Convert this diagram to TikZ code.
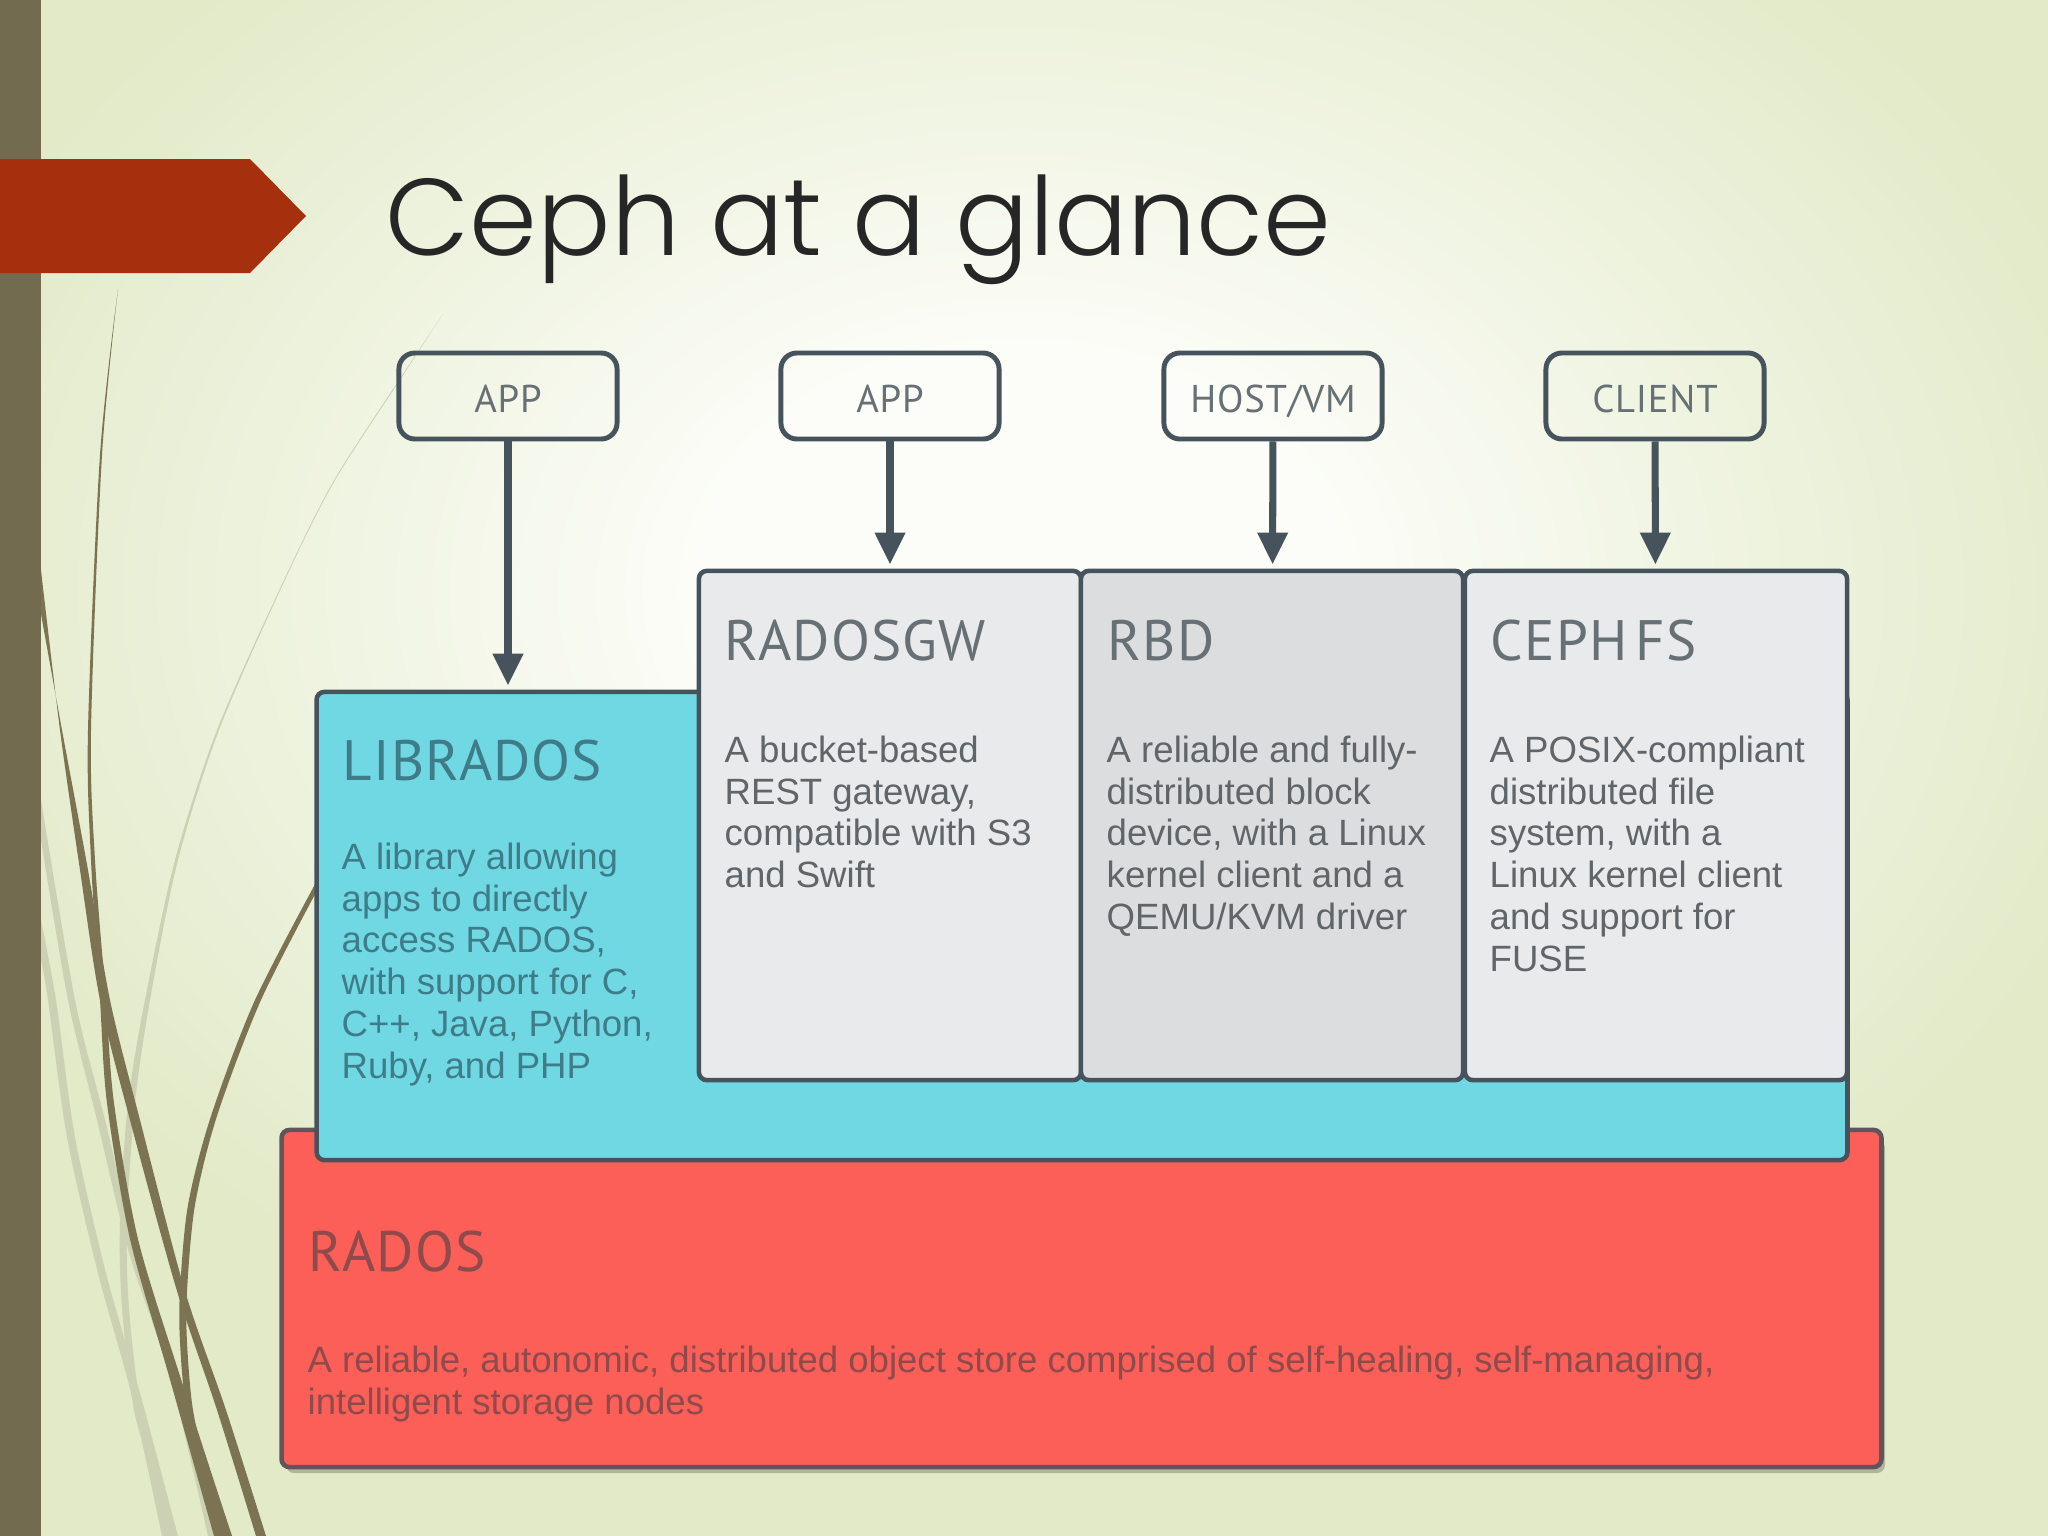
\documentclass[tikz,border=0pt]{standalone}
\usepackage{fontspec}
\usetikzlibrary{arrows.meta}
\setmainfont{Liberation Sans}
\newfontfamily\titlefont[UprightFont=* Light]{Poppins}
\newfontfamily\headfont[LetterSpace=2]{PT Sans}
\definecolor{bgedge}{HTML}{E2EAC8}
\definecolor{bgmid}{HTML}{FCFDF8}
\definecolor{bgnear}{HTML}{F1F5E4}
\definecolor{barcol}{HTML}{736B4F}
\definecolor{redcol}{HTML}{A62F0E}
\definecolor{stem}{HTML}{7B7352}
\definecolor{stemlight}{HTML}{CBD1B2}
\definecolor{edge}{HTML}{46535C}
\definecolor{libfill}{HTML}{70D8E3}
\definecolor{radfill}{HTML}{FB5F58}
\definecolor{gwfill}{HTML}{E8EAEC}
\definecolor{rbdfill}{HTML}{DBDDDF}
\definecolor{labelgrey}{HTML}{667075}
\definecolor{bodygrey}{HTML}{5F6569}
\definecolor{libtext}{HTML}{3F7C8A}
\definecolor{radtext}{HTML}{8F4A4C}
\pgfdeclareradialshading{bgglow}{\pgfpointorigin}{color(0bp)=(bgmid); color(7bp)=(bgmid); color(14bp)=(bgnear); color(25bp)=(bgedge); color(50bp)=(bgedge)}
\tikzset{
  topbox/.style={draw=edge,line width=1.4pt,rounded corners=1.6mm,inner sep=0pt,minimum width=2.18cm,minimum height=.86cm,text=labelgrey,text height=9.4pt,text depth=0pt,font=\headfont\fontsize{11}{13}\selectfont},
  panel/.style={draw=edge,line width=1.3pt,rounded corners=.8mm,inner sep=0pt,minimum width=3.82cm,minimum height=5.09cm},
  head/.style={anchor=north west,inner sep=0pt,text=labelgrey,font=\headfont\fontsize{16.2}{20}\selectfont},
  bodytxt/.style={anchor=north west,inner sep=0pt,align=left,text=bodygrey,font=\fontsize{10.4}{11.9}\selectfont},
  flow/.style={draw=edge,line width=2pt,-{Triangle[length=3.2mm,width=2.9mm]},shorten >=.4mm},
}
\begin{document}
\begin{tikzpicture}[x=.01cm,y=-.01cm]
\useasboundingbox (0,0) rectangle (2048,1536);
\fill[bgedge] (0,0) rectangle (2048,1536);
\begin{scope}
\clip (0,0) rectangle (2048,1536);
\shade[shading=bgglow] (1020,590) ellipse [x radius=1150,y radius=850];
\end{scope}
% grass stems
\fill[stemlight] plot[smooth] coordinates {(41,960) (48,1000) (67,1137) (98,1273) (131,1393) (162,1536)} -- plot[smooth] coordinates {(178,1536) (140,1393) (106,1273) (75,1137) (56,1000) (41,920)} -- cycle;
\fill[stemlight] plot[smooth] coordinates {(41,840) (68,1000) (97,1120) (130,1256) (170,1376) (208,1536)} -- plot[smooth] coordinates {(216,1536) (178,1376) (138,1256) (105,1120) (75,1000) (41,800)} -- cycle;
\fill[stemlight] plot[smooth] coordinates {(443,314) (397,383) (333,482) (283,582) (217,730) (175,860) (145,1000) (128,1103) (120,1222) (122,1308) (134,1410) (154,1479) (166,1536)} -- plot[smooth] coordinates {(176,1536) (161,1479) (141,1410) (129,1308) (127,1222) (135,1103) (150,1000) (178,860) (219,730) (284,582) (334,482) (398,383) (443,314)} -- cycle;
\fill[stem] plot[smooth] coordinates {(118,289) (100,455) (88,730) (91,860) (100,1000) (107,1103) (130,1239) (169,1376) (214,1536)} -- plot[smooth] coordinates {(232,1536) (180,1376) (138,1239) (114,1103) (106,1000) (95,860) (91,730) (102,455) (118,289)} -- cycle;
\fill[stem] plot[smooth] coordinates {(41,570) (60,730) (80,870) (100,1000) (130,1120) (177,1291) (217,1410) (256,1536)} -- plot[smooth] coordinates {(266,1536) (226,1410) (185,1291) (140,1120) (110,1000) (88,870) (62,730) (41,614)} -- cycle;
\fill[stem] plot[smooth] coordinates {(320,875) (255,1000) (211,1116) (188,1205) (180,1291) (180,1342) (186,1410) (201,1479) (222,1536)} -- plot[smooth] coordinates {(232,1536) (209,1479) (193,1410) (187,1342) (187,1291) (195,1205) (217,1116) (261,1000) (320,885)} -- cycle;
% left bar and tag
\fill[barcol] (0,0) rectangle (41,1536);
\fill[redcol] (0,159) -- (250,159) -- (306,216) -- (250,273) -- (0,273) -- cycle;
\node[anchor=base west,inner sep=0pt,text=black!85,font=\titlefont\fontsize{31}{36}\selectfont] (title) at (385,255) {Ceph at a glance};
% stack
\fill[black,opacity=.22,rounded corners=.8mm] (286,1140) rectangle (1885,1473);
\node[panel,fill=radfill,draw=edge!85!radfill,minimum width=15.99cm,minimum height=3.37cm] (rados) at (1081.5,1298.5) {};
\node[panel,fill=libfill,minimum width=15.3cm,minimum height=4.68cm] (lib) at (1082,926) {};
\node[panel,fill=gwfill] (gw) at (890,825.5) {};
\node[panel,fill=rbdfill] (rbd) at (1272,825.5) {};
\node[panel,fill=gwfill] (fs) at (1656,825.5) {};
\node[topbox] (app1) at (508,396) {APP};
\node[topbox] (app2) at (890,396) {APP};
\node[topbox] (host) at (1273,396) {HOST/VM};
\node[topbox] (client) at (1655,396) {CLIENT};
\draw[flow] (app1) -- (app1.south |- lib.north);
\draw[flow] (app2) -- (gw);
\draw[flow] (host) -- (rbd);
\draw[flow] (client) -- (fs);
% texts
\node[head,text=libtext] (libh) at (342,739) {LIBRADOS};
\node[bodytxt,text=libtext] (libb) at (341,842) {A library allowing\\apps to directly\\access RADOS,\\with support for C,\\C++, Java, Python,\\Ruby, and PHP};
\node[head] (gwh) at (724,619) {RADOSGW};
\node[bodytxt] (gwb) at (724,735) {A bucket-based\\REST gateway,\\compatible with S3\\and Swift};
\node[head] (rbdh) at (1107,619) {RBD};
\node[bodytxt] (rbdb) at (1106,735) {A reliable and fully-\\distributed block\\device, with a Linux\\kernel client and a\\QEMU/KVM driver};
\node[head] (fsh) at (1490,619) {CEPH\hspace{.15em}FS};
\node[bodytxt] (fsb) at (1489,735) {A POSIX-compliant\\distributed file\\system, with a\\Linux kernel client\\and support for\\FUSE};
\node[head,text=radtext] (radh) at (308,1230) {RADOS};
\node[bodytxt,text=radtext] (radb) at (307,1345) {A reliable, autonomic, distributed object store comprised of self-healing, self-managing,\\intelligent storage nodes};
\end{tikzpicture}
\end{document}
